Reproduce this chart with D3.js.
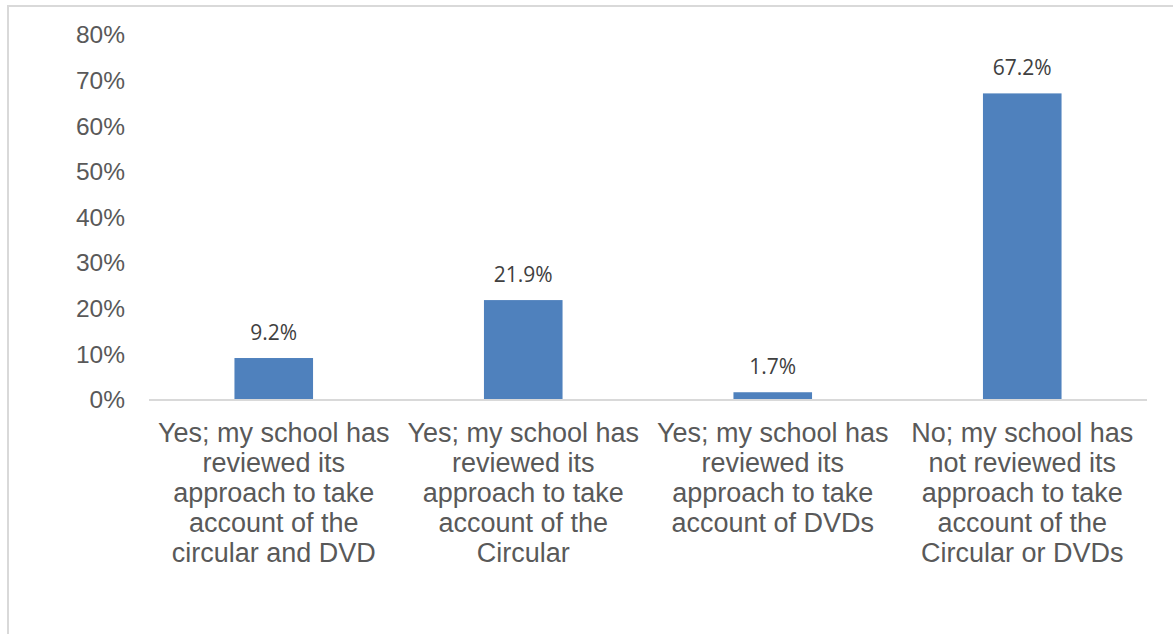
<!DOCTYPE html>
<html>
<head>
<meta charset="utf-8">
<script src="https://cdn.jsdelivr.net/npm/d3@7"></script>
<style>
  body { margin: 0; background: #fff; }
  svg { display: block; }
</style>
</head>
<body>
<svg></svg>
<script>
// Survey answers, one bar each
const categories = [
  ["Yes; my school has", "reviewed its", "approach to take", "account of the", "circular and DVD"],
  ["Yes; my school has", "reviewed its", "approach to take", "account of the", "Circular"],
  ["Yes; my school has", "reviewed its", "approach to take", "account of DVDs"],
  ["No; my school has", "not reviewed its", "approach to take", "account of the", "Circular or DVDs"]
];
const values = [9.2, 21.9, 1.7, 67.2];
const yTicks = [0, 10, 20, 30, 40, 50, 60, 70, 80];

const width = 1173;
const height = 634;
const margin = {left: 149, right: 26, top: 35, bottom: 234};

const svg = d3.select("svg")
  .attr("width", width)
  .attr("height", height);

// chart frame
svg.append("rect")
  .attr("x", 8)
  .attr("y", 6)
  .attr("width", width + 10)
  .attr("height", height + 10)
  .attr("fill", "none")
  .attr("stroke", "#d9d9d9")
  .attr("stroke-width", 2);

const x = d3.scaleBand()
  .domain(d3.range(values.length))
  .range([margin.left, width - margin.right])
  .paddingInner(0.685)
  .paddingOuter(0.3425);

const y = d3.scaleLinear()
  .domain([0, 80])
  .range([height - margin.bottom, margin.top]);

// y axis labels (no line, no ticks)
const yAxis = svg.append("g")
  .attr("transform", `translate(${margin.left - 24},0)`)
  .call(d3.axisLeft(y).tickValues(yTicks).tickFormat(d => d + "%").tickSize(0).tickPadding(0));
yAxis.select(".domain").remove();
yAxis.selectAll("text")
  .attr("font-family", "Liberation Sans, Arial, sans-serif")
  .attr("font-size", 24.5)
  .attr("fill", "#595959");

// bars
svg.append("g")
  .selectAll("rect")
  .data(values)
  .join("rect")
    .attr("x", (d, i) => x(i))
    .attr("y", d => y(d))
    .attr("width", x.bandwidth())
    .attr("height", d => y(0) - y(d))
    .attr("fill", "#4f81bd");

// baseline
svg.append("line")
  .attr("x1", margin.left)
  .attr("x2", width - margin.right)
  .attr("y1", y(0))
  .attr("y2", y(0))
  .attr("stroke", "#d9d9d9")
  .attr("stroke-width", 2);

// data labels
svg.append("g")
  .selectAll("text")
  .data(values)
  .join("text")
    .attr("x", (d, i) => x(i) + x.bandwidth() / 2)
    .attr("y", d => y(d) - 18)
    .attr("text-anchor", "middle")
    .attr("font-family", "Open Sans, sans-serif")
    .attr("font-size", 21)
    .attr("fill", "#404040")
    .text(d => d.toFixed(1) + "%");

// category labels, wrapped as in the original
const cat = svg.append("g")
  .selectAll("text")
  .data(categories)
  .join("text")
    .attr("text-anchor", "middle")
    .attr("font-family", "Liberation Sans, Arial, sans-serif")
    .attr("font-size", 27)
    .attr("fill", "#595959");

cat.selectAll("tspan")
  .data((d, i) => d.map(line => ({line, i})))
  .join("tspan")
    .attr("x", d => x(d.i) + x.bandwidth() / 2)
    .attr("y", (d, j) => y(0) + 42 + j * 30)
    .text(d => d.line);
</script>
</body>
</html>
